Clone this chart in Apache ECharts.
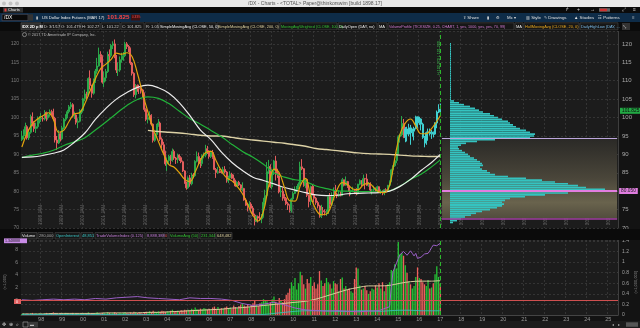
<!DOCTYPE html>
<html><head><meta charset="utf-8">
<script src="https://cdn.jsdelivr.net/npm/echarts@6/dist/echarts.min.js"></script>
<style>html,body{margin:0;padding:0;background:#131313;}#c{width:640px;height:328px;}</style>
</head><body><div id="c"></div><script>
// ---------------- DATA (monthly, Feb 1997 .. Jan 2017) ----------------
const firstMonth = '1997-02';
const axisEnd = '2025-06';
const opens = [
94.0,95.0,95.4,97.5,94.5,96.0,100.2,98.5,97.0,97.5,99.1,
99.6,99.8,99.6,101.4,99.9,100.8,101.6,101.4,99.8,93.9,93.1,95.6,
94.2,97.2,99.5,100.2,101.6,102.9,103.5,100.4,100.7,98.7,99.0,101.9,
101.9,105.1,106.4,106.1,110.6,108.7,106.6,109.9,112.6,114.0,117.1,116.6,
109.6,110.8,112.5,117.1,116.8,119.6,120.0,116.7,112.9,112.9,115.7,116.6,
116.8,120.0,119.3,118.8,114.8,112.0,106.2,108.6,107.9,107.8,107.5,106.6,
102.2,99.5,100.0,100.6,98.2,93.8,95.4,97.9,98.5,94.1,92.6,90.7,
87.4,88.3,89.5,88.4,90.8,89.0,88.6,89.8,89.1,88.0,85.5,82.2,
80.9,83.6,82.0,84.4,84.2,88.1,89.4,88.0,87.5,89.6,89.8,91.5,
90.9,89.4,90.5,89.2,85.9,85.1,85.3,85.2,85.1,85.9,85.2,82.8,
83.6,84.6,83.5,82.8,81.4,82.4,81.7,80.4,80.7,77.6,76.2,75.9,
76.5,75.4,73.5,71.8,73.1,72.7,72.5,73.2,77.0,78.8,85.3,86.7,
81.2,85.6,88.2,85.3,84.8,79.8,80.0,78.5,78.1,76.6,76.2,74.8,
77.9,79.4,80.4,81.1,81.9,86.6,86.1,81.5,83.2,78.9,77.2,81.2,
79.1,78.1,76.9,76.0,73.2,74.7,74.4,74.3,74.4,78.5,76.4,78.5,
80.2,79.2,78.7,79.0,78.8,83.1,81.6,82.6,81.3,80.0,80.2,80.2,
79.8,79.3,81.9,82.9,81.8,83.4,83.3,81.6,82.1,80.3,80.3,80.7,
80.0,81.2,79.7,80.0,79.5,80.4,80.0,81.6,82.7,85.8,86.9,88.3,
90.3,94.8,95.3,98.4,94.6,96.9,95.5,97.2,95.9,96.3,97.0,100.2,
98.6,99.6,98.2,94.6,93.1,95.9,96.1,95.6,96.0,95.5,98.5,101.5,
102.2];
const closes = [
95.0,95.4,97.5,94.5,96.0,100.2,98.5,97.0,97.5,99.1,99.6,
99.8,99.6,101.4,99.9,100.8,101.6,101.4,99.8,93.9,93.1,95.6,94.2,
97.2,99.5,100.2,101.6,102.9,103.5,100.4,100.7,98.7,99.0,101.9,101.9,
105.1,106.4,106.1,110.6,108.7,106.6,109.9,112.6,114.0,117.1,116.6,109.6,
110.8,112.5,117.1,116.8,119.6,120.0,116.7,112.9,112.9,115.7,116.6,116.8,
120.0,119.3,118.8,114.8,112.0,106.2,108.6,107.9,107.8,107.5,106.6,102.2,
99.5,100.0,100.6,98.2,93.8,95.4,97.9,98.5,94.1,92.6,90.7,87.4,
88.3,89.5,88.4,90.8,89.0,88.6,89.8,89.1,88.0,85.5,82.2,80.9,
83.6,82.0,84.4,84.2,88.1,89.4,88.0,87.5,89.6,89.8,91.5,90.9,
89.4,90.5,89.2,85.9,85.1,85.3,85.2,85.1,85.9,85.2,82.8,83.6,
84.6,83.5,82.8,81.4,82.4,81.7,80.4,80.7,77.6,76.2,75.9,76.5,
75.4,73.5,71.8,73.1,72.7,72.5,73.2,77.0,78.8,85.3,86.7,81.2,
85.6,88.2,85.3,84.8,79.8,80.0,78.5,78.1,76.6,76.2,74.8,77.9,
79.4,80.4,81.1,81.9,86.6,86.1,81.5,83.2,78.9,77.2,81.2,79.1,
78.1,76.9,76.0,73.2,74.7,74.4,74.3,74.4,78.5,76.4,78.5,80.2,
79.2,78.7,79.0,78.8,83.1,81.6,82.6,81.3,80.0,80.2,80.2,79.8,
79.3,81.9,82.9,81.8,83.4,83.3,81.6,82.1,80.3,80.3,80.7,80.0,
81.2,79.7,80.0,79.5,80.4,80.0,81.6,82.7,85.8,86.9,88.3,90.3,
94.8,95.3,98.4,94.6,96.9,95.5,97.2,95.9,96.3,97.0,100.2,98.6,
99.6,98.2,94.6,93.1,95.9,96.1,95.6,96.0,95.5,98.5,101.5,102.2,
101.8];
const highs = [
96.4,96.8,98.6,97.9,96.9,100.8,101.4,99.0,98.6,100.3,100.4,
101.2,100.5,102.0,101.6,101.4,102.2,102.1,102.4,100.2,95.0,96.6,96.2,
97.8,99.9,100.9,102.1,103.4,104.2,103.9,101.6,100.9,99.8,102.3,102.4,
105.4,107.6,107.0,110.9,112.8,108.9,110.6,113.2,116.2,119.0,118.0,116.9,
112.5,113.2,117.9,118.5,120.0,120.7,121.2,117.0,115.0,116.6,117.6,117.8,
120.6,120.5,119.7,119.0,115.1,112.3,109.1,109.0,108.9,108.6,107.8,106.8,
102.5,100.9,101.7,100.9,98.4,95.8,98.3,99.6,98.9,94.6,93.4,91.0,
89.2,89.9,89.8,91.6,91.3,89.3,90.2,90.0,89.5,88.3,85.7,82.6,
84.0,84.4,85.0,84.9,88.4,90.8,90.5,89.0,90.0,90.5,92.6,92.3,
91.1,91.0,91.2,89.6,86.3,86.6,86.0,85.9,86.6,86.8,85.5,84.2,
85.4,85.0,84.5,83.1,82.7,82.8,81.9,82.4,80.9,78.1,76.8,77.3,
77.0,76.0,73.9,73.4,73.4,74.3,73.8,78.2,80.4,87.9,88.5,87.3,
86.1,88.5,89.6,86.1,85.0,81.3,81.0,79.2,78.4,77.1,76.4,78.2,
79.9,81.3,81.4,82.4,88.0,88.7,86.3,83.5,83.3,79.1,81.5,81.9,
81.4,78.4,77.4,76.3,76.3,75.7,75.1,75.0,79.0,79.5,79.7,81.0,
81.7,79.5,80.3,79.9,83.6,83.1,84.0,82.8,81.5,80.4,81.2,80.4,
80.8,82.0,83.2,83.0,84.5,83.6,84.7,82.5,82.4,80.6,81.5,81.0,
81.5,81.3,80.5,80.2,80.6,80.8,81.7,82.9,86.1,87.0,88.6,90.6,
95.2,95.5,100.4,99.6,97.4,97.5,98.3,98.0,97.0,97.5,100.5,100.3,
100.2,99.8,98.6,95.0,96.2,97.0,97.0,96.6,96.2,98.7,101.9,103.6,
103.8];
const lows = [
93.6,94.1,95.0,94.0,93.9,95.6,97.6,96.1,95.8,97.0,98.4,
98.8,98.9,99.2,99.0,99.4,100.2,100.6,99.2,93.2,91.2,92.8,93.5,
93.9,96.8,99.0,99.8,101.1,102.3,100.0,99.6,98.1,97.1,98.7,100.9,
101.4,104.4,104.8,105.7,107.6,105.4,106.2,109.4,111.9,113.8,114.9,109.2,
108.3,109.8,112.1,115.4,116.3,118.6,116.1,112.1,111.3,112.4,114.9,115.4,
116.4,118.6,117.8,114.3,111.4,105.6,105.2,107.0,106.4,106.5,105.3,101.6,
99.0,98.4,99.2,97.8,93.2,93.4,94.6,97.5,93.6,91.7,90.0,86.9,
85.5,87.7,87.2,88.0,88.5,87.4,87.6,88.2,87.6,85.2,82.0,80.4,
80.6,81.2,81.6,83.5,83.9,87.8,87.4,86.3,86.8,88.9,89.2,90.1,
88.8,89.0,88.8,85.7,83.6,84.7,84.9,84.8,84.6,84.8,82.3,82.2,
83.2,83.3,82.3,81.2,81.1,81.4,79.9,80.0,77.4,76.0,74.5,75.7,
75.0,73.2,70.7,71.6,71.5,72.1,71.3,72.8,76.0,78.5,84.7,80.9,
80.5,84.4,82.9,83.6,79.4,78.4,77.4,77.4,76.2,74.9,74.2,74.2,
77.3,79.2,79.8,80.5,81.5,85.7,81.2,80.8,78.4,75.6,76.2,78.8,
76.9,76.3,75.3,72.8,72.7,73.4,73.4,73.3,73.8,75.3,76.0,78.1,
78.9,78.1,78.5,78.6,78.7,81.3,81.5,80.9,78.6,79.0,79.9,79.2,
78.9,79.1,81.6,81.4,81.6,80.5,81.4,81.2,79.6,79.1,80.0,79.8,
80.0,79.5,79.3,78.9,78.9,79.8,79.8,81.4,82.4,84.5,86.6,87.6,
90.1,93.2,95.0,94.4,93.3,93.5,94.9,92.6,94.8,93.8,96.8,97.2,
98.0,96.5,94.2,91.9,92.6,93.7,95.1,94.2,94.6,95.3,97.1,101.2,
101.0];
const volumes = [
0.02,0.03,0.02,0.03,0.02,0.03,0.04,0.02,0.03,0.02,0.03,
0.03,0.02,0.03,0.04,0.02,0.03,0.03,0.05,0.04,0.03,0.02,0.03,
0.03,0.02,0.04,0.03,0.03,0.02,0.04,0.03,0.03,0.02,0.03,0.03,
0.03,0.04,0.03,0.05,0.03,0.04,0.03,0.04,0.05,0.04,0.03,0.04,
0.04,0.03,0.05,0.04,0.03,0.04,0.05,0.04,0.03,0.04,0.03,0.04,
0.05,0.04,0.03,0.05,0.04,0.06,0.05,0.04,0.05,0.04,0.03,0.05,
0.06,0.05,0.07,0.05,0.08,0.06,0.05,0.07,0.06,0.08,0.07,0.06,
0.07,0.06,0.08,0.1,0.07,0.06,0.08,0.07,0.09,0.08,0.1,0.09,
0.1,0.09,0.12,0.1,0.14,0.11,0.1,0.12,0.11,0.13,0.12,0.1,
0.12,0.1,0.14,0.16,0.12,0.15,0.11,0.13,0.12,0.14,0.16,0.12,
0.14,0.12,0.18,0.15,0.13,0.17,0.2,0.22,0.18,0.16,0.21,0.15,
0.19,0.22,0.28,0.2,0.17,0.22,0.24,0.3,0.27,0.26,0.2,0.24,
0.3,0.35,0.25,0.22,0.32,0.28,0.24,0.3,0.38,0.42,0.5,0.62,
0.55,0.7,0.48,0.6,0.82,0.75,0.58,0.5,0.68,0.6,0.72,0.55,
0.62,0.5,0.58,0.83,0.65,0.55,0.6,0.7,0.62,0.58,0.5,0.64,
0.6,0.58,0.45,0.68,0.71,0.5,0.55,0.48,0.5,0.45,0.42,0.68,
0.9,0.88,0.56,0.48,0.5,0.55,0.47,0.4,0.45,0.5,0.48,0.56,
0.52,0.6,0.5,0.62,0.45,0.55,0.58,0.62,0.85,0.83,0.96,0.88,
1.38,1.15,1.17,1.12,0.94,0.8,0.64,0.58,0.5,0.55,0.72,0.9,
0.7,0.68,0.62,0.58,0.55,0.66,0.5,0.52,0.6,0.77,0.92,0.72,
0.6];

// study lines at sample months (half-yearly / quarterly)
const hullMA = [92,95.8,98.3,99.6,100.5,101.3,99.5,96.0,96.6,99.0,
101.0,101.3,103.8,107.3,110.5,113.3,114.5,115.8,117.5,117.2,
117.6,116.5,112,106.5,101.5,97,93.5,90,87.2,86.5,
85,83.2,82.6,85.2,88.4,90.5,90.8,88.2,85.5,83.6,
82.8,81.3,79.3,76.4,73.4,71.9,74.5,81.5,86.0,85.0,
81.0,77.4,77.3,81.5,83.5,78.5,75,73.6,73.8,76.5,
80.4,82.3,81.8,80.6,80.4,81.7,82.2,81,79.8,79.6,
81.5,89,95.5,98.5,99.6,97.7,95.6,95.6,97.0,99.0,100.5];
const sma50 = [89.2,89.3,89.7,90.3,91.2,93.3,95.8,99.5,102.5,105,
106.8,108.2,108.8,108.1,106.6,104,100.5,96.6,94,90.6,
87.8,85.6,83.8,82.9,82.0,81.0,80.3,79.6,79.0,78.8,
78.9,79.3,79.4,79.5,79.6,80.0,81.3,83.2,85.6,87.8,90.0];
const wma100 = [89.1,89.8,90.3,91.1,92.4,93.4,94.5,96.6,98.8,101.1,
103.3,104.9,105.6,105.2,103.8,101.7,99.7,98.2,96.5,94.8,
92.7,90.8,89.2,87.3,85.0,83.8,83.1,82.6,81.4,80.7,
80.1,80.0,79.9,79.9,79.8,80.1,81.4,83.2,84.6,86.6,88.5];
const sma200 = [96.5,96.2,96.0,95.8,95.5,95.2,95.0,95.0,94.6,94.2,
93.9,93.6,93.3,93.0,92.6,92.2,91.6,91.3,91.0,90.7,
90.4,90.2,90.1,90.0,89.8,89.6,89.5,89.4,89.4];
const volumeAvg = [0.02,0.02,0.02,0.03,0.03,0.03,0.03,0.03,0.04,0.04,
0.04,0.04,0.05,0.05,0.06,0.07,0.08,0.09,0.1,0.11,
0.13,0.14,0.16,0.18,0.2,0.22,0.24,0.26,0.3,0.36,
0.42,0.48,0.52,0.55,0.55,0.56,0.6,0.63,0.64,0.64,0.65];
const openInterest = [0.01,0.01,0.01,0.01,0.01,0.01,0.01,0.01,0.01,0.01,
0.01,0.01,0.01,0.01,0.01,0.01,0.01,0.01,0.01,0.01,
0.01,0.01,0.01,0.01,0.03,0.05,0.07,0.08,0.08,0.08,
0.07,0.07,0.08,0.08,0.07,0.08,0.09,0.09,0.08,0.08,0.08];
const tradeVolIdx = [0.1,0.0,0.1,0.2,0.1,0.2,0.1,0.3,0.2,0.4,
0.5,0.6,0.4,0.3,0.2,0.1,0.4,0.3,0.3,0.2,
0.0,-0.5,-0.8,-0.6,-0.3,-0.7,-1.2,-1.5,-1.6,-1.7,
-1.6,-1.7,-1.8,-1.7,-1.6,-1.0,
2.0,4.5,5.2,5.9,6.6,7.2,6.9,7.7,7.9,7.1,7.3,7.8,7.4,7.0,7.4,6.6,6.5,6.8,7.1,7.3,7.0,7.4,7.8,8.3,8.7,9.0,8.6,8.8,9.0];

// volume profile (relative volume per 0.5 price bin, from 71.5 up to 120)
const profileFrom = 71.5, profileStep = 0.5;
const profileVolume = [3,7,11,15,21,26,32,40,47,52,
54,52,55,60,75,95,118,150,155,136,
128,118,105,92,76,58,45,40,37,32,
30,33,32,30,27,24,20,18,15,12,
9,8,11,16,27,45,80,84,85,80,
76,70,66,63,60,58,52,48,44,40,
33,29,25,20,14,9,4,
1,1,1,1,1,1,1,1,1,1,1,1,1,1,1,1,1,1,1,1,1,1,1,1,1,1,1,1,1,1,1];
const valueAreaHigh = 94.4, pointOfControl = 80.05, valueAreaLow = 72.55;
const lastPrice = 101.825;
const priceTicks = {min:70, max:123.5, step:5};
const volTicks = {min:0, max:1.418, step:0.2};
const tviRange = {min:-2.3, max:9.5, labels:[0,2,4,6,8]};
const cyanFrom = '2015-05';
const currentMonth = '2017-01';

// ---------------- BUILD ----------------
const months = [];
{ let y = +firstMonth.slice(0,4), m = +firstMonth.slice(5);
  while (true) { const s = y + '-' + String(m).padStart(2,'0'); months.push(s); if (s === axisEnd) break; m++; if (m > 12) { m = 1; y++; } } }
const lastCat = months[months.length-1];
const isJan = v => v.slice(5) === '01';
const half = []; for (let i = 0; i <= 234; i += 6) half.push(i); half.push(239);
const quarter = []; for (let i = 0; i <= 237; i += 3) quarter.push(i); quarter.push(239);
const tanIdx = []; for (let i = 72; i <= 234; i += 6) tanIdx.push(i); tanIdx.push(239);
const tviIdx = []; for (let i = 0; i <= 210; i += 6) tviIdx.push(i); for (let i = 211; i <= 239; i++) tviIdx.push(i);
const pairs = (idx, vals) => vals.map((v, k) => [idx[k], v]);
const profileLevels = profileVolume.map((_, k) => (profileFrom + k*profileStep).toFixed(1));

const UP = '#2aa84a', DN = '#e35d5d', CUP = '#3fd0d0', CDN = '#d98bcf';
const cyanIdx = months.indexOf(cyanFrom);
const candleData = closes.map((c, i) => {
  const it = {value: [opens[i], c, lows[i], highs[i]]};
  if (i >= cyanIdx) it.itemStyle = {color: CUP, color0: CDN, borderColor: CUP, borderColor0: CDN};
  return it;
});
const volData = volumes.map((v, i) => ({value: v, itemStyle: {color: closes[i] >= opens[i] ? '#25c335' : '#f0605c'}}));

const MAIN = {left: 21, top: 31, width: 597, height: 197};
const LOW = {left: 21, top: 240, width: 597, height: 75};
const pxPer = MAIN.height / (priceTicks.max - priceTicks.min);
const profHi = +profileLevels[profileLevels.length-1] + profileStep/2, profLo = profileFrom - profileStep/2;
const PROF = {left: 450, width: 168, top: MAIN.top + (priceTicks.max - profHi)*pxPer, height: (profHi - profLo)*pxPer};

const FONT = '"Liberation Sans", Arial, sans-serif';
// ---------- chrome graphics ----------
const G = [];
function rect(x,y,w,h,fill,stroke,z){G.push({type:'rect',silent:true,z:z||50,shape:{x,y,width:w,height:h},style:{fill,stroke:stroke||null,lineWidth:stroke?0.6:0}});}
function txt(x,y,t,fill,size,o){o=o||{};const e={type:'text',silent:true,z:o.z||52,x,y,style:{text:t,fill,font:(o.bold?'bold ':'')+size+'px '+FONT,textAlign:o.align||'left',align:o.align||'left',textVerticalAlign:'middle',verticalAlign:'middle'}};if(o.rot!=null)e.rotation=o.rot;G.push(e);}
function tag(x,y,w,h,t,color,bg,size){rect(x,y,w,h,bg||'#161616','#4c4c4c',51);txt(x+1,y+h/2+0.3,t,color,size||4);}
// window title bar
rect(0,0,640,7,'#e9e9e9');
[4,10.5,17].forEach(cx=>G.push({type:'circle',silent:true,z:51,shape:{cx,cy:3.5,r:2},style:{fill:'#c4c4c4'}}));
txt(315,3.7,'/DX - Charts - <TOTAL> Paper@thinkorswim [build 1898.17]','#555',5,{align:'center'});
// tab row
rect(0,7,640,6,'#0b0b0b');
rect(3,7.5,20,5,'#333');rect(4.5,8.5,2,3,'#e04040');txt(8,10.2,'Charts','#eee',4);
txt(565,10,'↱','#ccc',5);txt(577,10,'+','#ddd',5);txt(590,10,'→','#ddd',5);rect(599,8.2,11,3.5,'#666');rect(600,8.7,7,2.5,'#c33');txt(622,10,'⤢','#ccc',5);txt(633,10,'≡','#ccc',5);
// blue symbol bar
rect(0,13,640,9,'#0e2c48');
rect(2,14.3,26,6.4,'#0a0a0a','#556');txt(4,17.6,'/DX','#fff',5);rect(28,14.3,5,6.4,'#333');
txt(36,17.6,'▮','#ccc',4);txt(42,17.6,'US Dollar Index Futures (MAR 17)','#e8e8e8',4.1);
txt(107,17.7,'101.825','#ff4545',6.2,{bold:true});rect(131,14.5,9,6,'#401010');txt(132,17.5,'0.33%','#ff5050',3);
const btns=[[463,'⇪ Share'],[487,'▮'],[496,'⚙'],[507,'Mc ▾'],[526,'▥ Style'],[544,'✎ Drawings'],[574,'▲ Studies'],[598,'☷ Patterns'],[632,'≡']];
btns.forEach(b=>txt(b[0],17.6,b[1],'#e0e0e0',4.4));
// study label row
rect(0,22,640,9,'#0b0b0b');
rect(21,22.8,20,7,'#2d2d2d','#555',51);txt(22,26.6,'/DX 2D p M','#fff',4,{bold:true});
tag(43,22.8,16,7,'D: 3/1/17','#d0d0d0');
tag(60,22.8,20,7,'O: 101.479','#d0d0d0');
tag(81,22.8,19,7,'H: 102.27','#d0d0d0');
tag(101,22.8,19,7,'L: 101.22','#d0d0d0');
tag(121,22.8,23,7,'C: 101.825','#d0d0d0');
tag(145,22.8,13,7,'R: 1.05','#d0d0d0');
tag(159,22.8,57,7,'SimpleMovingAvg (CLOSE, 50, 0)','#f2f2f2',null,3.9);
tag(217,22.8,62,7,'SimpleMovingAvg (CLOSE, 200, 0)','#dccf9e',null,3.9);
tag(280,22.8,57,7,'MovingAvgWeighted (CLOSE, 100, 0)','#33c233',null,3.7);
tag(338,22.8,39,7,'DailyOpen (DAY, no)','#e8e8e8',null,3.9);
tag(378,22.8,9,7,'MA','#e8e8e8');
tag(388,22.8,126,7,'VolumeProfile (TICKSIZE, 0.25, CHART, 1, yes, 1000, yes, yes, 70, 99)','#d47ad4',null,3.7);
tag(515,22.8,8,7,'MA','#e8e8e8');
tag(524,22.8,55,7,'HullMovingAvg (CLOSE, 20, 0)','#e9a71c',null,3.9);
tag(580,22.8,38,7,'DailyHighLow (DAY, ...','#7bbbe8',null,3.9);
rect(622,23,8,7,'#333');txt(623,26.5,'⤡','#ccc',4);
// copyright line
G.push({type:'circle',silent:true,z:52,shape:{cx:24.5,cy:34.6,r:2},style:{fill:'none',stroke:'#bbb',lineWidth:0.6}});
txt(28,34.6,'© 2017 TD Ameritrade IP Company, Inc.','#b8b8b8',3.8);
// rotated current-bar text near top of 2017
txt(438.5,58,'H 102.270 L 101.220','#3bd04b',3.6,{rot:Math.PI/2,align:'center'});
// lower header row
rect(0,229,640,11,'#0b0b0b');
rect(21,232.6,16,6.4,'#1a1a1a','#555',51);txt(22,235.9,'Volume','#e8e8e8',4);
tag(38,232.6,15,6.4,'280,000','#aaa');
tag(55,232.6,25,6.4,'OpenInterest','#3cc8c8');
tag(81,232.6,12,6.4,'48,851','#3cc8c8');
tag(95,232.6,50,6.4,'TradeVolumeIndex (0.125)','#c47dd8');
tag(146,232.6,17,6.4,'8,888,388','#c47dd8');
tag(164,232.6,4,6.4,'0','#e85050');
tag(169,232.6,30,6.4,'VolumeAvg (50)','#33c233');
tag(200,232.6,15,6.4,'231,344','#33c233');
tag(216,232.6,16,6.4,'648,482','#dccf9e');
// lower panel bubbles
rect(4,238.4,23,4.8,'#c88be6',null,53);txt(5,240.9,'1.348888','#222',3.6,{z:54});
rect(14,299,7,5,'#e06060',null,53);txt(16,301.6,'0','#fff',3.6,{z:54});
txt(5,282,'(×1,000)','#888',4,{rot:Math.PI/2,align:'center'});
txt(636,282,'(×1,000,000)','#888',4,{rot:Math.PI/2,align:'center'});
// bottom toolbar
rect(0,321,640,7,'#1c1c1c');
txt(2,324.6,'✥','#ccc',5);txt(9,324.6,'⊕','#ccc',5);txt(16,324.6,'⌕','#ccc',5);rect(23,322,5,5,'none','#aaa');rect(29,322,9,5.5,'#3a3a3a');txt(30,324.8,'▬','#bbb',4);
txt(612,324.6,'◂','#aaa',4);txt(618,324.6,'▸','#aaa',4);rect(626,322.3,12,4.5,'#555');

// ---------------- OPTION ----------------
const grey = '#3b3b3b';
const option = {
  animation: false,
  backgroundColor: '#131313',
  textStyle: {fontFamily: FONT},
  grid: [
    Object.assign({show: true, backgroundColor: '#1c1c1c', borderWidth: 0}, MAIN),
    Object.assign({show: false}, PROF),
    Object.assign({show: true, backgroundColor: '#1c1c1c', borderWidth: 0}, LOW)
  ],
  xAxis: [
    {type: 'category', gridIndex: 0, data: months, boundaryGap: true,
     axisLine: {show: false}, axisTick: {show: false},
     axisLabel: {show: true, inside: true, rotate: 90, interval: (i, v) => isJan(v), formatter: v => v.slice(0,4) + ' JAN', color: '#656565', fontSize: 4.5, margin: 3},
     splitLine: {show: true, interval: (i, v) => isJan(v), lineStyle: {color: grey, type: [2,2], width: 0.8}}},
    {type: 'value', gridIndex: 1, min: 0, max: 168, show: false},
    {type: 'category', gridIndex: 2, data: months, boundaryGap: true,
     axisLine: {show: true, lineStyle: {color: '#444'}}, axisTick: {show: false},
     axisLabel: {interval: (i, v) => isJan(v), formatter: v => v.slice(2,4), color: '#9a9a9a', fontSize: 5.5, margin: 1.5},
     splitLine: {show: true, interval: (i, v) => isJan(v), lineStyle: {color: grey, type: [2,2], width: 0.8}}}
  ],
  yAxis: [
    {type: 'value', gridIndex: 0, position: 'right', min: priceTicks.min, max: priceTicks.max, interval: priceTicks.step,
     axisLine: {show: true, lineStyle: {color: '#3e3e3e'}}, axisTick: {show: false},
     axisLabel: {color: '#a8a8a8', fontSize: 6, margin: 4, showMaxLabel: false},
     splitLine: {show: true, lineStyle: {color: grey, type: [2,2], width: 0.8}}},
    {type: 'value', gridIndex: 0, position: 'left', min: priceTicks.min, max: priceTicks.max, interval: priceTicks.step,
     axisLine: {show: false}, axisTick: {show: false}, splitLine: {show: false},
     axisLabel: {color: '#7c7c7c', fontSize: 5, margin: 2, showMaxLabel: false}},
    {type: 'category', gridIndex: 1, data: profileLevels, boundaryGap: true, show: false},
    {type: 'value', gridIndex: 2, position: 'right', min: volTicks.min, max: volTicks.max, interval: volTicks.step,
     axisLine: {show: true, lineStyle: {color: '#3e3e3e'}}, axisTick: {show: false},
     axisLabel: {color: '#a0a0a0', fontSize: 5, margin: 4, showMaxLabel: false, formatter: v => String(Math.round(v*10)/10)},
     splitLine: {show: true, lineStyle: {color: grey, type: [2,2], width: 0.8}}},
    {type: 'value', gridIndex: 2, position: 'left', min: tviRange.min, max: tviRange.max,
     axisLine: {show: false}, axisTick: {show: false}, splitLine: {show: false},
     axisLabel: {color: '#8a8a8a', fontSize: 5, margin: 3, customValues: tviRange.labels}}
  ],
  series: [
    {type: 'candlestick', name: '/DX', xAxisIndex: 0, yAxisIndex: 0, data: candleData, barWidth: 1.5,
     itemStyle: {color: UP, color0: DN, borderColor: UP, borderColor0: DN, borderWidth: 1},
     markArea: {silent: true, itemStyle: {color: new echarts.graphic.LinearGradient(0,0,0,1,[
        {offset: 0, color: '#2a2926'}, {offset: 0.5, color: '#4a463a'}, {offset: 0.8, color: '#69634d'}, {offset: 1, color: '#514c3d'}])},
        data: [[{coord: ['2017-02', valueAreaHigh]}, {coord: [lastCat, valueAreaLow]}]]},
     markLine: {silent: true, symbol: ['none','none'], animation: false, data: [
        [{coord: ['2017-02', valueAreaHigh], lineStyle: {color: '#bca6dc', width: 1, type: 'solid'}, label: {show: false}}, {coord: [lastCat, valueAreaHigh]}],
        [{coord: ['2017-02', pointOfControl], lineStyle: {color: '#e27de0', width: 2, type: 'solid'},
          label: {show: true, position: 'end', distance: 2, formatter: pointOfControl.toFixed(3), backgroundColor: '#e07ddf', color: '#222', fontSize: 4.8, padding: [1,2,0,2]}}, {coord: [lastCat, pointOfControl]}],
        [{coord: ['2017-02', valueAreaLow], lineStyle: {color: '#a23ea2', width: 1.5, type: 'solid'}, label: {show: false}}, {coord: [lastCat, valueAreaLow]}],
        {yAxis: lastPrice, lineStyle: {color: 'rgba(0,0,0,0)', width: 0},
         label: {show: true, position: 'end', distance: 2, formatter: String(lastPrice), backgroundColor: '#22a944', color: '#0b0b0b', fontSize: 4.8, padding: [1,2,0,2]}},
        {xAxis: currentMonth, lineStyle: {color: '#2db52d', width: 1, type: [4,3]}, label: {show: false}}
     ]}},
    {type: 'line', name: 'SMA200', xAxisIndex: 0, yAxisIndex: 0, data: pairs(tanIdx, sma200), showSymbol: false, smooth: 0.4, lineStyle: {color: '#ddd2a6', width: 1.4}},
    {type: 'line', name: 'WMA', xAxisIndex: 0, yAxisIndex: 0, data: pairs(half, wma100), showSymbol: false, smooth: 0.4, lineStyle: {color: '#22b33a', width: 1.2}},
    {type: 'line', name: 'SMA50', xAxisIndex: 0, yAxisIndex: 0, data: pairs(half, sma50), showSymbol: false, smooth: 0.4, lineStyle: {color: '#ececec', width: 1.2}},
    {type: 'line', name: 'Hull', xAxisIndex: 0, yAxisIndex: 0, data: pairs(quarter, hullMA), showSymbol: false, smooth: 0.4, lineStyle: {color: '#e3a30c', width: 1.2}},
    {type: 'bar', name: 'Profile', xAxisIndex: 1, yAxisIndex: 2, data: profileVolume, barCategoryGap: '12%', itemStyle: {color: '#35c3c0'}},
    {type: 'bar', name: 'Volume', xAxisIndex: 2, yAxisIndex: 3, data: volData, barWidth: 1.3},
    {type: 'line', name: 'VolumeAvg', xAxisIndex: 2, yAxisIndex: 3, data: pairs(half, volumeAvg), showSymbol: false, smooth: 0.3, lineStyle: {color: '#d8cc9c', width: 1}},
    {type: 'line', name: 'OpenInterest', xAxisIndex: 2, yAxisIndex: 3, data: pairs(half, openInterest), showSymbol: false, smooth: 0.3, lineStyle: {color: '#3cbcbc', width: 0.9}},
    {type: 'line', name: 'TradeVolumeIndex', xAxisIndex: 2, yAxisIndex: 4, data: pairs(tviIdx, tradeVolIdx), showSymbol: false, lineStyle: {color: '#9b5fc6', width: 1},
     markLine: {silent: true, symbol: ['none','none'], label: {show: false}, data: [
        {yAxis: 0, lineStyle: {color: '#cf5050', width: 1, type: 'solid'}},
        {xAxis: currentMonth, lineStyle: {color: '#2db52d', width: 1, type: [4,3]}}]}}
  ],
  graphic: {elements: G}
};
const chart = echarts.init(document.getElementById('c'), null, {renderer: 'canvas'});
chart.setOption(option);
</script></body></html>
